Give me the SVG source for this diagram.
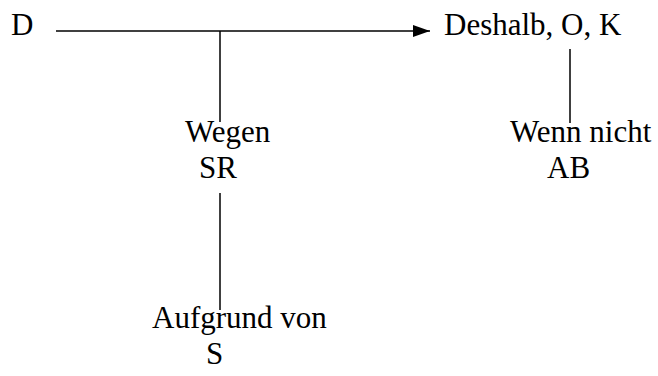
<svg xmlns="http://www.w3.org/2000/svg" width="658" height="376" viewBox="0 0 658 376">
  <style>
    .lbl { font-family: 'Liberation Serif', 'Times New Roman', Times, 'DejaVu Serif', serif; font-size: 31px; fill: #000; }
    .link { stroke: #000; stroke-width: 1.5; fill: none; }
  </style>
  <defs>
    <marker id="arrow" markerWidth="17" markerHeight="12" refX="17" refY="6" orient="auto" markerUnits="userSpaceOnUse">
      <path d="M0,0 L17,6 L0,12 Z" fill="#000"/>
    </marker>
  </defs>
  <rect width="658" height="376" fill="#fff"/>

  <!-- argument links: data to claim, with warrant, backing and rebuttal branches -->
  <g id="connectors">
    <line class="link" x1="56" y1="31" x2="430" y2="31" marker-end="url(#arrow)"/>
    <line class="link" x1="220" y1="31" x2="220" y2="122"/>
    <line class="link" x1="220" y1="193" x2="220" y2="310"/>
    <line class="link" x1="570" y1="49" x2="570" y2="123"/>
  </g>

  <g id="data" class="lbl">
    <text x="11" y="35">D</text>
  </g>
  <g id="claim" class="lbl">
    <text x="444" y="35">Deshalb, O, K</text>
  </g>
  <g id="warrant" class="lbl">
    <text x="185" y="142">Wegen</text>
    <text x="199" y="178">SR</text>
  </g>
  <g id="rebuttal" class="lbl">
    <text x="510" y="142">Wenn nicht</text>
    <text x="547" y="178">AB</text>
  </g>
  <g id="backing" class="lbl">
    <text x="152" y="328">Aufgrund von</text>
    <text x="206" y="364">S</text>
  </g>
</svg>
